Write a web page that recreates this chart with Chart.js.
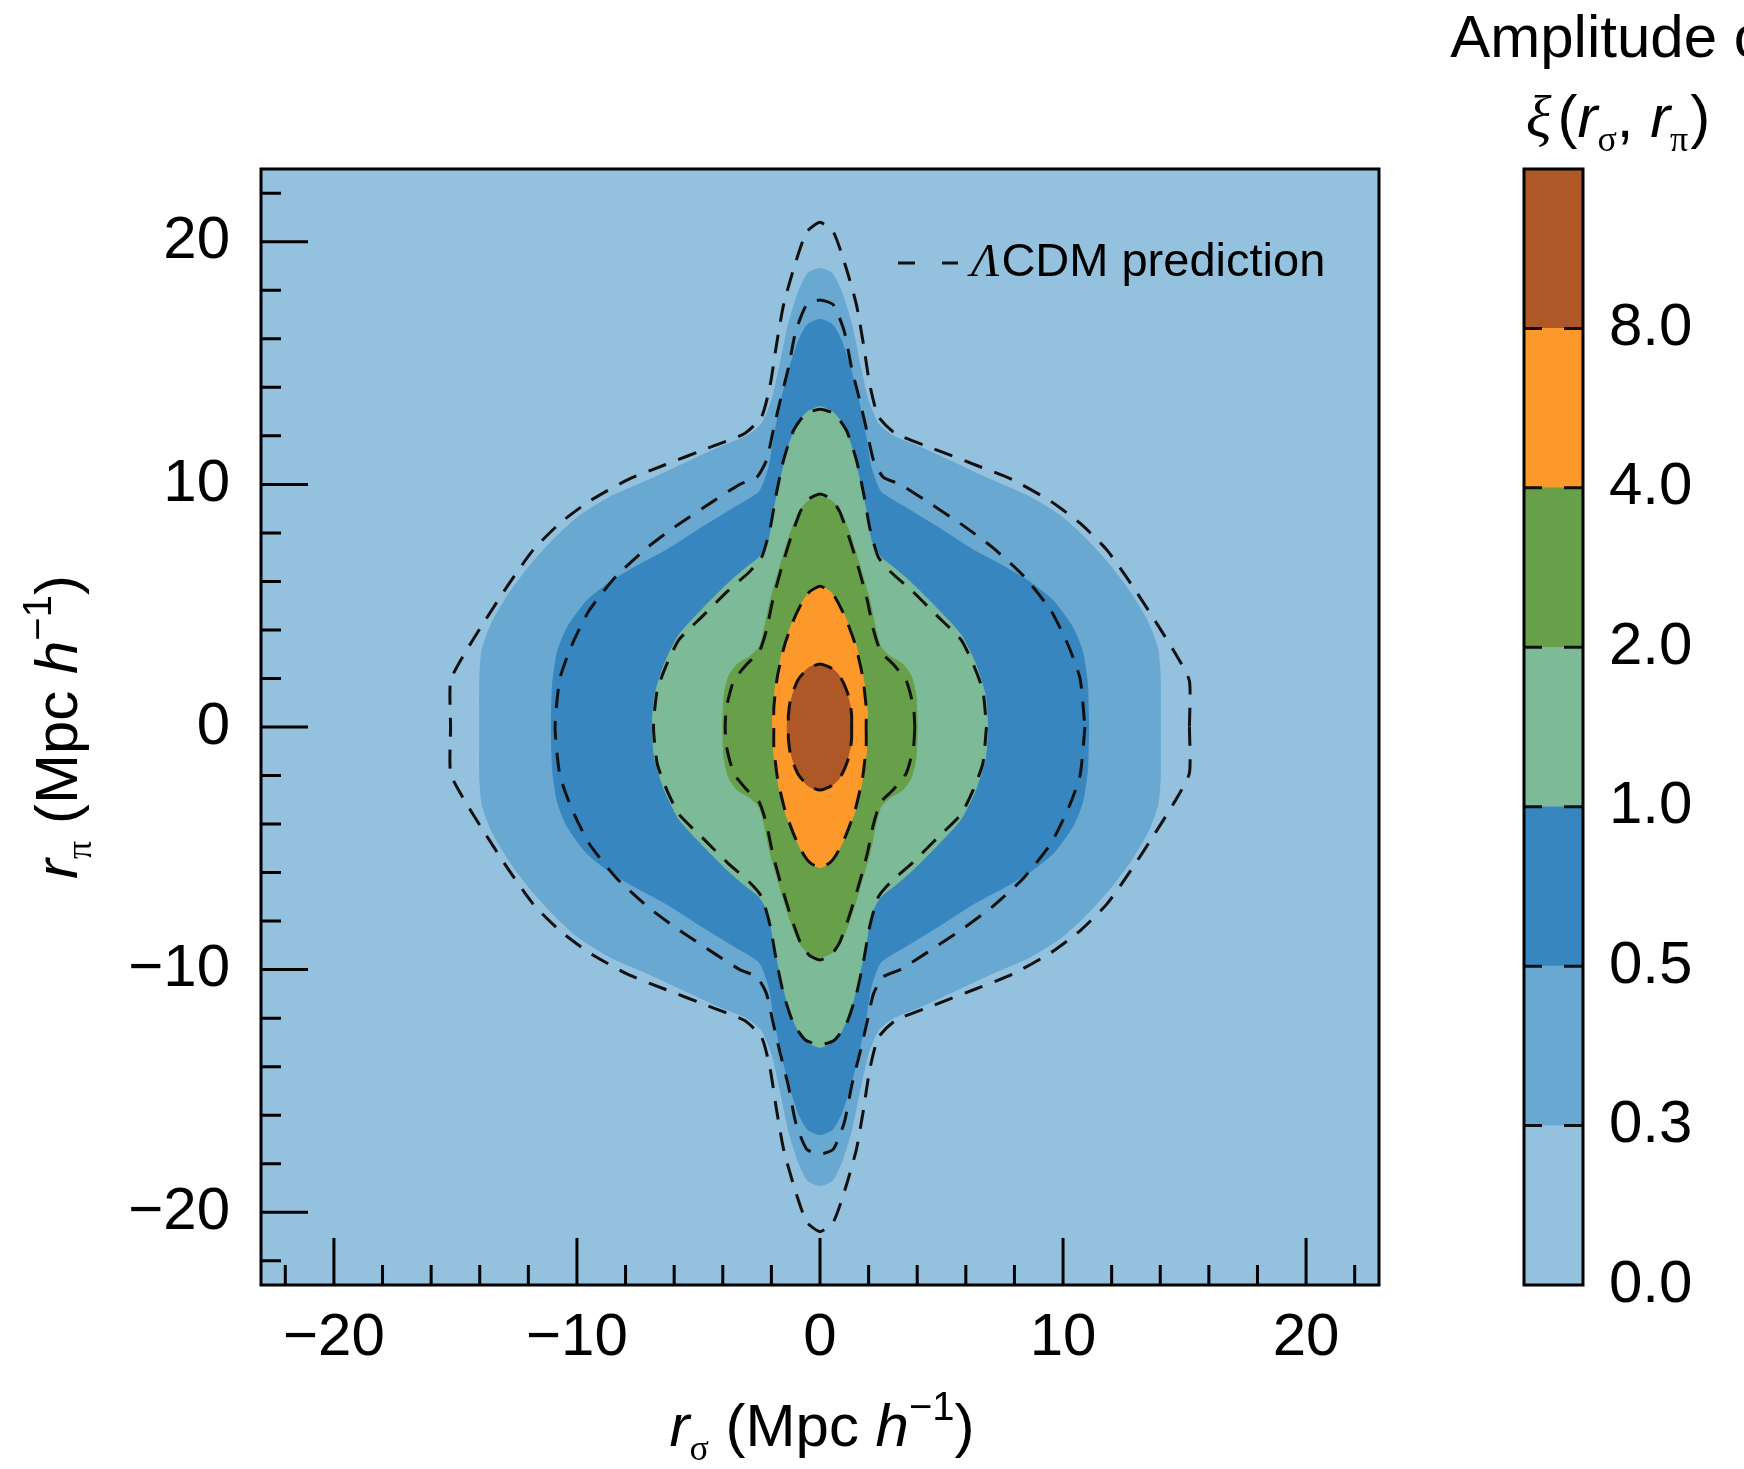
<!DOCTYPE html>
<html><head><meta charset="utf-8">
<script src="https://cdn.jsdelivr.net/npm/chart.js@4.4.1/dist/chart.umd.min.js"></script>
<style>
html,body{margin:0;padding:0;background:#fff;width:1744px;height:1469px;overflow:hidden;}
#main{position:absolute;left:0;top:0;}
#cbar{position:absolute;left:1440px;top:0;}
</style></head><body>
<canvas id="main" width="1744" height="1469"></canvas>
<canvas id="cbar" width="304" height="1469"></canvas>
<script>
// contour levels of xi(r_sigma, r_pi) and their fill colours
const levels = [0.0, 0.3, 0.5, 1.0, 2.0, 4.0, 8.0];
const levelColors = ['#94c1de', '#69a8d0', '#3886bf', '#7dbb98', '#68a04a', '#fd982b', '#ae5727'];
// axis ticks (Mpc/h)
const axisTicks = [-22, -20, -18, -16, -14, -12, -10, -8, -6, -4, -2, 0, 2, 4, 6, 8, 10, 12, 14, 16, 18, 20, 22];
const majorTicks = [-20, -10, 0, 10, 20];

// Quadrant outlines (r_sigma >= 0, r_pi >= 0), from the r_pi axis to the r_sigma axis.
// Measured (filled) contours
const obs03 = [[0,18.9],[0.5,18.7],[0.9,17.9],[1.3,16.6],[1.65,14.9],[2.0,13.4],[2.4,12.5],[3.0,12.0],[4.2,11.5],[5.5,10.9],[7.0,10.2],[8.6,9.5],[9.9,8.7],[10.9,7.8],[11.9,6.7],[12.8,5.5],[13.5,4.3],[13.9,3.2],[14.0,2.0],[14.0,0]];
const obs05 = [[0,16.8],[0.5,16.6],[0.85,16.0],[1.25,14.8],[1.6,13.4],[1.9,11.9],[2.1,10.7],[2.5,9.7],[3.6,9.0],[4.9,8.2],[6.3,7.3],[7.6,6.6],[8.6,6.0],[9.6,5.2],[10.4,4.1],[10.8,3.1],[11.0,1.8],[11.05,0]];
const obs10 = [[0,13.2],[0.5,13.0],[0.85,12.6],[1.25,11.7],[1.6,10.3],[1.9,8.9],[2.1,7.7],[2.5,7.0],[3.0,6.6],[3.7,6.0],[4.9,4.8],[5.8,3.8],[6.4,2.6],[6.8,1.3],[6.9,0]];
const obs20 = [[0,9.5],[0.5,9.3],[0.85,8.9],[1.25,7.9],[1.65,6.6],[2.05,5.2],[2.3,4.0],[2.5,3.3],[2.9,2.9],[3.4,2.6],[3.75,2.1],[3.95,1.3],[4.0,0]];
const obs40 = [[0,5.8],[0.4,5.6],[0.7,5.2],[1.1,4.4],[1.5,3.3],[1.8,1.9],[1.95,0.6],[1.95,0]];
const obs80 = [[0,2.6],[0.45,2.45],[0.8,2.1],[1.1,1.4],[1.3,0.6],[1.35,0]];
// LambdaCDM prediction (dashed) contours
const lcdm03 = [[0,20.8],[0.55,20.4],[1.05,19.0],[1.5,17.4],[1.8,15.7],[2.05,14.1],[2.4,12.8],[3.1,12.1],[4.6,11.5],[6.4,10.8],[7.9,10.2],[9.5,9.3],[10.7,8.4],[11.8,7.3],[12.8,5.9],[13.9,4.2],[14.7,2.9],[15.2,1.9],[15.2,0]];
const lcdm05 = [[0,17.6],[0.55,17.4],[1.0,16.3],[1.3,14.8],[1.65,13.4],[1.95,12.1],[2.2,11.0],[2.6,10.3],[3.3,10.0],[4.4,9.3],[5.9,8.3],[7.1,7.4],[8.4,6.2],[9.5,4.8],[10.2,3.4],[10.7,2.0],[10.9,0]];
const lcdm10 = [[0,13.1],[0.6,12.9],[1.1,12.2],[1.5,11.0],[1.8,9.6],[2.05,8.2],[2.4,7.0],[2.9,6.4],[3.8,5.6],[4.8,4.6],[5.8,3.6],[6.3,2.6],[6.7,1.5],[6.85,0]];
const lcdm20 = [[0,9.6],[0.45,9.4],[0.8,8.9],[1.2,7.8],[1.6,6.5],[1.95,5.2],[2.2,4.0],[2.5,3.1],[3.0,2.6],[3.55,1.9],[3.85,0.8],[3.9,0]];
const lcdm40 = [[0,5.8],[0.4,5.6],[0.65,5.3],[1.05,4.5],[1.45,3.4],[1.75,2.1],[1.9,0.8],[1.9,0]];
const lcdm80 = [[0,2.6],[0.5,2.4],[0.9,1.95],[1.2,1.2],[1.3,0.5],[1.3,0]];

const observed = [obs03, obs05, obs10, obs20, obs40, obs80];
const predicted = [lcdm03, lcdm05, lcdm10, lcdm20, lcdm40, lcdm80];

// The map is symmetric in r_sigma and r_pi: build the closed outline from the quadrant.
function fullOutline(q) {
  const n = q.length, pts = [];
  for (let i = n - 1; i >= 0; i--) pts.push({x: q[i][0], y: -q[i][1]});
  for (let i = 1; i < n; i++) pts.push({x: -q[i][0], y: -q[i][1]});
  for (let i = n - 2; i >= 0; i--) pts.push({x: -q[i][0], y: q[i][1]});
  for (let i = 1; i < n; i++) pts.push({x: q[i][0], y: q[i][1]});
  return pts;
}

const SANS = "'Liberation Sans', Arial, Helvetica, sans-serif";
const SERIF = "'Liberation Serif', 'Times New Roman', serif";
const fmt = v => v < 0 ? '\u2212' + Math.abs(v) : String(v);

const datasets = [];
observed.forEach((q, i) => {
  datasets.push({
    data: fullOutline(q), showLine: true, fill: 'shape',
    backgroundColor: levelColors[i + 1], borderColor: levelColors[i + 1], borderWidth: 1,
    pointRadius: 0, tension: 0.2, order: 20 - i
  });
});
predicted.forEach((q, i) => {
  datasets.push({
    data: fullOutline(q), showLine: true, fill: false,
    borderColor: '#111', borderWidth: 3, borderDash: [19, 13],
    pointRadius: 0, tension: 0.2, order: 6 - i
  });
});

function richText(ctx, parts, cx, baseline) {
  let w = 0;
  parts.forEach(p => { ctx.font = p.font; w += ctx.measureText(p.t).width + (p.gap || 0); });
  let x = cx - w / 2;
  ctx.textAlign = 'left'; ctx.textBaseline = 'alphabetic'; ctx.fillStyle = '#000';
  parts.forEach(p => { ctx.font = p.font; ctx.fillText(p.t, x, baseline + (p.dy || 0)); x += ctx.measureText(p.t).width + (p.gap || 0); });
}
function axisTitle(sub) {
  return [
    {t: 'r', font: 'italic 60px ' + SANS},
    {t: sub, font: '36px ' + SERIF, dy: 14},
    {t: ' (Mpc ', font: '60px ' + SANS},
    {t: 'h', font: 'italic 60px ' + SANS},
    {t: '\u22121', font: '40px ' + SANS, dy: -26},
    {t: ')', font: '60px ' + SANS}
  ];
}

const mainDecor = {
  id: 'mainDecor',
  beforeDatasetsDraw(chart) {
    const {ctx, chartArea: a} = chart;
    ctx.save();
    ctx.fillStyle = levelColors[0];
    ctx.fillRect(a.left, a.top, a.right - a.left, a.bottom - a.top);
    ctx.restore();
  },
  afterDatasetsDraw(chart) {
    const {ctx, chartArea: a, scales} = chart;
    ctx.save();
    ctx.strokeStyle = '#000'; ctx.lineWidth = 3; ctx.setLineDash([]);
    ctx.beginPath();
    axisTicks.forEach(v => {
      const len = majorTicks.includes(v) ? 47 : 20;
      const px = scales.x.getPixelForValue(v);
      ctx.moveTo(px, a.bottom); ctx.lineTo(px, a.bottom - len);
      const py = scales.y.getPixelForValue(v);
      ctx.moveTo(a.left, py); ctx.lineTo(a.left + len, py);
    });
    ctx.stroke();
    ctx.strokeRect(a.left, a.top, a.right - a.left, a.bottom - a.top);
    // legend
    ctx.lineWidth = 3; ctx.strokeStyle = '#111'; ctx.setLineDash([17, 27]);
    ctx.beginPath(); ctx.moveTo(a.right - 481, a.top + 94); ctx.lineTo(a.right - 421, a.top + 94); ctx.stroke();
    ctx.setLineDash([]);
    ctx.fillStyle = '#000'; ctx.textAlign = 'left'; ctx.textBaseline = 'alphabetic';
    ctx.font = 'italic 47px ' + SERIF;
    ctx.fillText('\u039B', a.right - 408, a.top + 107);
    const lw = ctx.measureText('\u039B').width;
    ctx.font = '47px ' + SANS;
    ctx.fillText('CDM prediction', a.right - 406 + lw, a.top + 107);
    ctx.restore();
  },
  afterDraw(chart) {
    const {ctx, chartArea: a} = chart;
    ctx.save();
    richText(ctx, axisTitle('\u03C3'), (a.left + a.right) / 2 + 2, 1446);
    ctx.translate(77, (a.top + a.bottom) / 2);
    ctx.rotate(-Math.PI / 2);
    richText(ctx, axisTitle('\u03C0'), 0, 0);
    ctx.restore();
  }
};

new Chart(document.getElementById('main'), {
  type: 'scatter',
  data: {datasets},
  options: {
    responsive: false, animation: false, devicePixelRatio: 1, events: [],
    layout: {padding: {left: 0, top: 169, right: 365, bottom: 0}},
    plugins: {legend: {display: false}, tooltip: {enabled: false}},
    scales: {
      x: {
        type: 'linear', min: -23, max: 23,
        grid: {display: false, drawTicks: false}, border: {display: false},
        afterBuildTicks: s => { s.ticks = axisTicks.map(v => ({value: v})); },
        afterFit: s => { s.height = 184; },
        ticks: {autoSkip: false, maxRotation: 0, padding: 17, color: '#000',
          font: {family: SANS, size: 60},
          callback: v => majorTicks.includes(v) ? fmt(v) : ''}
      },
      y: {
        type: 'linear', min: -23, max: 23,
        grid: {display: false, drawTicks: false}, border: {display: false},
        afterBuildTicks: s => { s.ticks = axisTicks.map(v => ({value: v})); },
        afterFit: s => { s.width = 261; },
        ticks: {autoSkip: false, padding: 31, color: '#000',
          font: {family: SANS, size: 60},
          callback: v => majorTicks.includes(v) ? fmt(v) : ''}
      }
    }
  },
  plugins: [mainDecor]
});

const cbarDecor = {
  id: 'cbarDecor',
  afterDatasetsDraw(chart) {
    const {ctx, chartArea: a, scales} = chart;
    ctx.save();
    ctx.strokeStyle = '#111'; ctx.lineWidth = 3; ctx.setLineDash([18, 22]);
    for (let i = 1; i < levels.length; i++) {
      const py = scales.y.getPixelForValue(i);
      ctx.beginPath(); ctx.moveTo(a.left, py); ctx.lineTo(a.right, py); ctx.stroke();
    }
    ctx.setLineDash([]); ctx.strokeStyle = '#000';
    ctx.strokeRect(a.left, a.top, a.right - a.left, a.bottom - a.top);
    ctx.restore();
  },
  afterDraw(chart) {
    const {ctx} = chart;
    ctx.save();
    ctx.fillStyle = '#000'; ctx.font = '60px ' + SANS; ctx.textAlign = 'center'; ctx.textBaseline = 'alphabetic';
    ctx.fillText('Amplitude of', 177, 57);
    richText(ctx, [
      {t: '\u03BE', font: 'italic 60px ' + SERIF, gap: 6},
      {t: '(', font: '60px ' + SANS},
      {t: 'r', font: 'italic 60px ' + SANS},
      {t: '\u03C3', font: '36px ' + SERIF, dy: 14},
      {t: ', ', font: '60px ' + SANS},
      {t: 'r', font: 'italic 60px ' + SANS},
      {t: '\u03C0', font: '36px ' + SERIF, dy: 14, gap: 2},
      {t: ')', font: '60px ' + SANS}
    ], 178, 137);
    ctx.restore();
  }
};

new Chart(document.getElementById('cbar'), {
  type: 'bar',
  data: {
    labels: ['xi'],
    datasets: levelColors.map((c, i) => ({
      data: [[i, i + 1]], backgroundColor: c, borderWidth: 0,
      barPercentage: 1, categoryPercentage: 1, grouped: false
    }))
  },
  options: {
    responsive: false, animation: false, devicePixelRatio: 1, events: [],
    layout: {padding: {left: 84, top: 169, right: 0, bottom: 184}},
    plugins: {legend: {display: false}, tooltip: {enabled: false}},
    scales: {
      x: {display: false},
      y: {
        position: 'right', min: 0, max: levels.length,
        grid: {display: false, drawTicks: false}, border: {display: false},
        afterBuildTicks: s => { s.ticks = levels.map((v, i) => ({value: i})); },
        afterFit: s => { s.width = 161; },
        ticks: {autoSkip: false, padding: 26, color: '#000',
          font: {family: SANS, size: 60},
          callback: v => levels[v].toFixed(1)}
      }
    }
  },
  plugins: [cbarDecor]
});
</script>
</body></html>
